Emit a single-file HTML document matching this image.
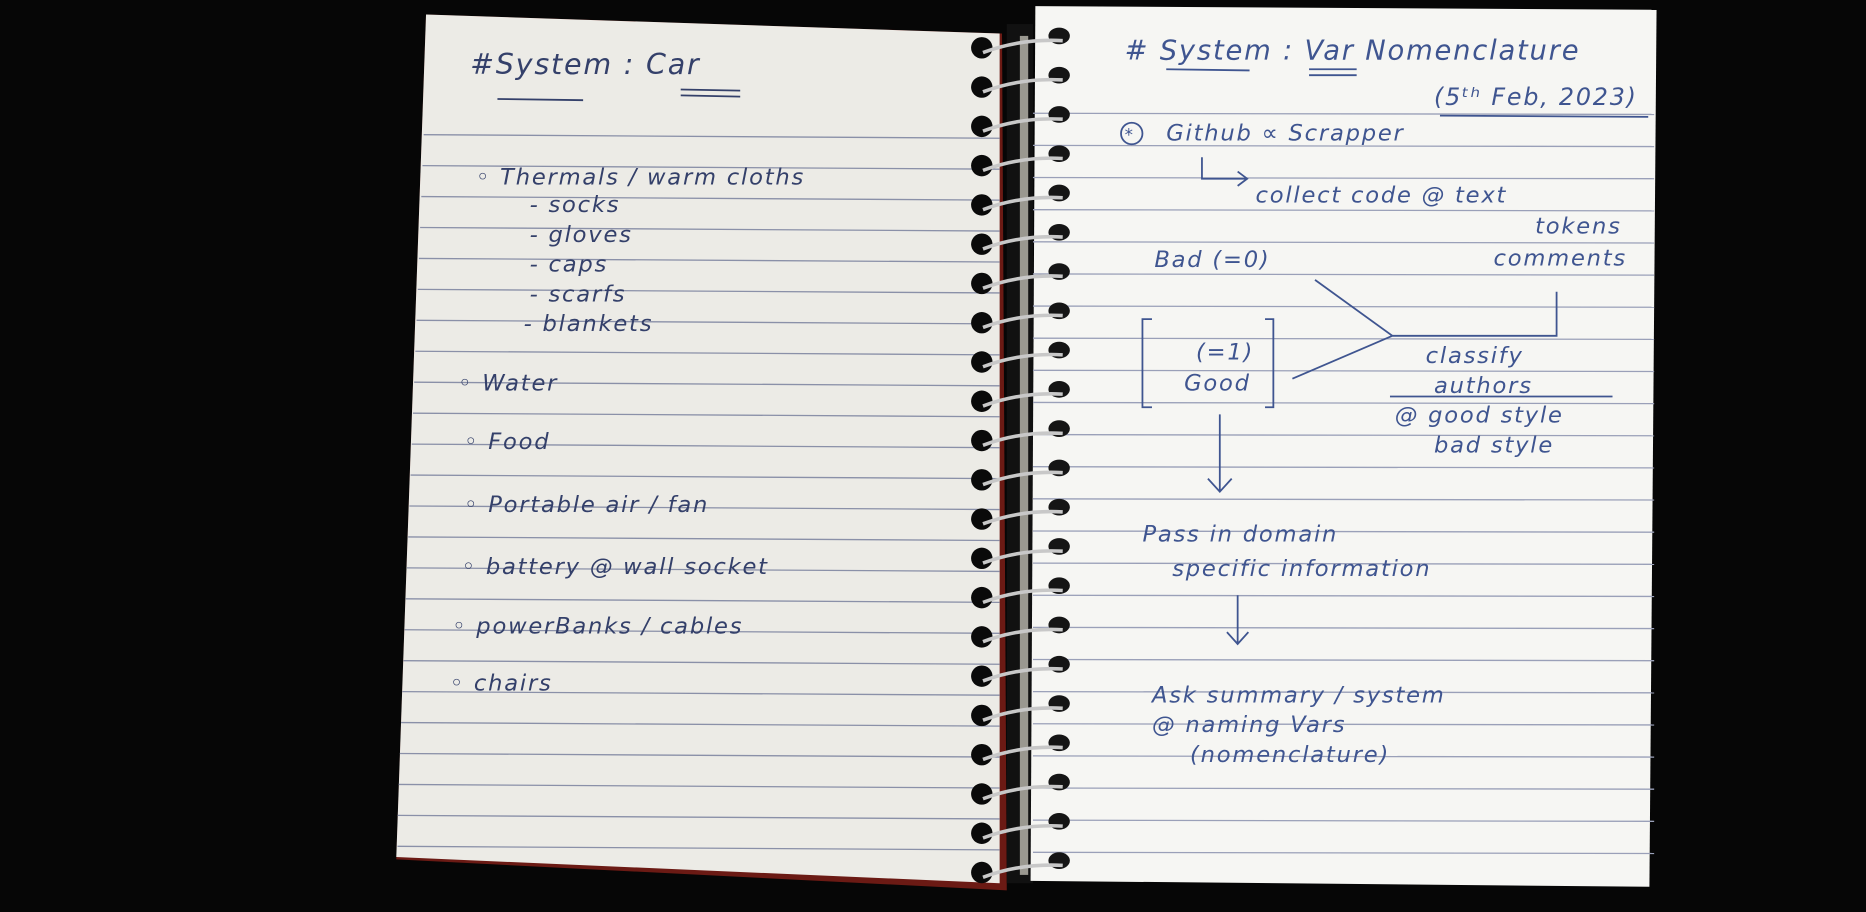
<!DOCTYPE html>
<html><head><meta charset="utf-8"><style>
html,body{margin:0;padding:0;background:#060606;overflow:hidden}
svg{display:block}
.h{font-family:"DejaVu Sans","Liberation Sans",sans-serif;font-style:italic;fill:#34406a;font-size:19px;letter-spacing:1.5px}
.r{fill:#3f5590}
</style></head><body>
<svg width="1866" height="912" viewBox="0 0 1568 766" xmlns="http://www.w3.org/2000/svg">
<rect width="1568" height="766" fill="#060606"/>
<!-- left page -->
<polygon points="358,12 842,28 846,748 333,722" fill="#6b1a14"/>
<polygon points="358,12 840,28 840,742 333,720" fill="#ecebe6"/>
<g stroke="#8a90a8" stroke-width="1.1">
<line x1="356" y1="113" x2="840" y2="116"/>
<line x1="355" y1="139" x2="840" y2="142"/>
<line x1="354" y1="165" x2="840" y2="168"/>
<line x1="353" y1="191" x2="840" y2="194"/>
<line x1="352" y1="217" x2="840" y2="220"/>
<line x1="351" y1="243" x2="840" y2="246"/>
<line x1="350" y1="269" x2="840" y2="272"/>
<line x1="349" y1="295" x2="840" y2="298"/>
<line x1="348" y1="321" x2="840" y2="324"/>
<line x1="347" y1="347" x2="840" y2="350"/>
<line x1="346" y1="373" x2="840" y2="376"/>
<line x1="345" y1="399" x2="840" y2="402"/>
<line x1="344" y1="425" x2="840" y2="428"/>
<line x1="343" y1="451" x2="840" y2="454"/>
<line x1="342" y1="477" x2="840" y2="480"/>
<line x1="341" y1="503" x2="840" y2="506"/>
<line x1="340" y1="529" x2="840" y2="532"/>
<line x1="339" y1="555" x2="840" y2="558"/>
<line x1="338" y1="581" x2="840" y2="584"/>
<line x1="337" y1="607" x2="840" y2="610"/>
<line x1="336" y1="633" x2="840" y2="636"/>
<line x1="335" y1="659" x2="840" y2="662"/>
<line x1="334" y1="685" x2="840" y2="688"/>
<line x1="334" y1="711" x2="840" y2="714"/>
</g>
<!-- binding strip -->
<rect x="846" y="20" width="22" height="722" fill="#111"/>
<rect x="857" y="30" width="7" height="705" fill="#9a9890"/>
<!-- right page -->
<polygon points="870,5 1392,8 1386,745 866,740" fill="#f6f6f3"/>
<g stroke="#9aa0b8" stroke-width="1.1">
<line x1="868" y1="95" x2="1390" y2="96"/>
<line x1="868" y1="122" x2="1390" y2="123"/>
<line x1="868" y1="149" x2="1390" y2="150"/>
<line x1="868" y1="176" x2="1390" y2="177"/>
<line x1="868" y1="203" x2="1390" y2="204"/>
<line x1="868" y1="230" x2="1390" y2="231"/>
<line x1="868" y1="257" x2="1390" y2="258"/>
<line x1="868" y1="284" x2="1390" y2="285"/>
<line x1="868" y1="311" x2="1390" y2="312"/>
<line x1="868" y1="338" x2="1390" y2="339"/>
<line x1="868" y1="365" x2="1390" y2="366"/>
<line x1="868" y1="392" x2="1390" y2="393"/>
<line x1="868" y1="419" x2="1390" y2="420"/>
<line x1="868" y1="446" x2="1390" y2="447"/>
<line x1="868" y1="473" x2="1390" y2="474"/>
<line x1="868" y1="500" x2="1390" y2="501"/>
<line x1="868" y1="527" x2="1390" y2="528"/>
<line x1="868" y1="554" x2="1390" y2="555"/>
<line x1="868" y1="581" x2="1390" y2="582"/>
<line x1="868" y1="608" x2="1390" y2="609"/>
<line x1="868" y1="635" x2="1390" y2="636"/>
<line x1="868" y1="662" x2="1390" y2="663"/>
<line x1="868" y1="689" x2="1390" y2="690"/>
<line x1="868" y1="716" x2="1390" y2="717"/>
</g>
<!-- spiral -->
<g id="rings">
<g transform="translate(0,30)"><circle cx="825" cy="10" r="9" fill="#0a0a0a"/><ellipse cx="890" cy="0" rx="9" ry="7" fill="#151515"/><path d="M826,14 Q858,2 893,4" stroke="#c8c8c8" stroke-width="3" fill="none"/></g>
</g>
<g>
<use href="#rings" y="33"/><use href="#rings" y="66"/><use href="#rings" y="99"/><use href="#rings" y="132"/><use href="#rings" y="165"/><use href="#rings" y="198"/><use href="#rings" y="231"/><use href="#rings" y="264"/><use href="#rings" y="297"/><use href="#rings" y="330"/><use href="#rings" y="363"/><use href="#rings" y="396"/><use href="#rings" y="429"/><use href="#rings" y="462"/><use href="#rings" y="495"/><use href="#rings" y="528"/><use href="#rings" y="561"/><use href="#rings" y="594"/><use href="#rings" y="627"/><use href="#rings" y="660"/><use href="#rings" y="693"/>
</g>
<!-- left text -->
<g class="h">
<text x="395" y="62" font-size="24">#System : Car</text>
<line x1="418" y1="83" x2="490" y2="84" stroke="#34406a" stroke-width="1.5"/>
<line x1="572" y1="75" x2="622" y2="76" stroke="#34406a" stroke-width="1.5"/>
<line x1="572" y1="80" x2="622" y2="81" stroke="#34406a" stroke-width="1.5"/>
<text x="400" y="155">◦ Thermals / warm cloths</text>
<text x="445" y="178">- socks</text>
<text x="445" y="203">- gloves</text>
<text x="445" y="228">- caps</text>
<text x="445" y="253">- scarfs</text>
<text x="440" y="278">- blankets</text>
<text x="385" y="328">◦ Water</text>
<text x="390" y="377">◦ Food</text>
<text x="390" y="430">◦ Portable air / fan</text>
<text x="388" y="482">◦ battery @ wall socket</text>
<text x="380" y="532">◦ powerBanks / cables</text>
<text x="378" y="580">◦ chairs</text>
</g>
<!-- right text -->
<g class="h r">
<text x="945" y="50" font-size="23"># System : Var Nomenclature</text>
<line x1="980" y1="58" x2="1050" y2="59" stroke="#3f5590" stroke-width="1.5"/>
<line x1="1100" y1="58" x2="1140" y2="58" stroke="#3f5590" stroke-width="1.5"/>
<line x1="1100" y1="63" x2="1140" y2="63" stroke="#3f5590" stroke-width="1.5"/>
<text x="1205" y="88" font-size="20">(5ᵗʰ Feb, 2023)</text>
<line x1="1210" y1="97" x2="1385" y2="98" stroke="#3f5590" stroke-width="1.5"/>
<circle cx="951" cy="112" r="9" fill="none" stroke="#3f5590" stroke-width="1.5"/>
<text x="945" y="118" font-size="14">*</text>
<text x="980" y="118">Github  ∝  Scrapper</text>
<path d="M1010,132 V150 H1048 M1040,144 L1048,150 L1040,156" stroke="#3f5590" stroke-width="1.5" fill="none"/>
<text x="1055" y="170">collect code @ text</text>
<text x="1290" y="196">tokens</text>
<text x="970" y="224">Bad   (=0)</text>
<text x="1255" y="223">comments</text>
<path d="M1105,235 L1170,282 L1086,318 M1170,282 H1308 V245" stroke="#3f5590" stroke-width="1.5" fill="none"/>
<path d="M968,268 H960 V342 H968 M1063,268 H1070 V342 H1063" stroke="#3f5590" stroke-width="1.5" fill="none"/>
<text x="1005" y="302">(=1)</text>
<text x="995" y="328">Good</text>
<text x="1198" y="305">classify</text>
<text x="1205" y="330">authors</text>
<line x1="1168" y1="333" x2="1355" y2="333" stroke="#3f5590" stroke-width="1.5"/>
<text x="1172" y="355">@ good style</text>
<text x="1205" y="380">bad style</text>
<path d="M1025,348 V412 M1015,402 L1025,413 L1035,402" stroke="#3f5590" stroke-width="1.5" fill="none"/>
<text x="960" y="455">Pass in domain</text>
<text x="985" y="484">specific information</text>
<path d="M1040,500 V540 M1031,531 L1040,541 L1049,531" stroke="#3f5590" stroke-width="1.5" fill="none"/>
<text x="968" y="590">Ask summary / system</text>
<text x="968" y="615">@ naming Vars</text>
<text x="1000" y="640">(nomenclature)</text>
</g>
</svg>
</body></html>
